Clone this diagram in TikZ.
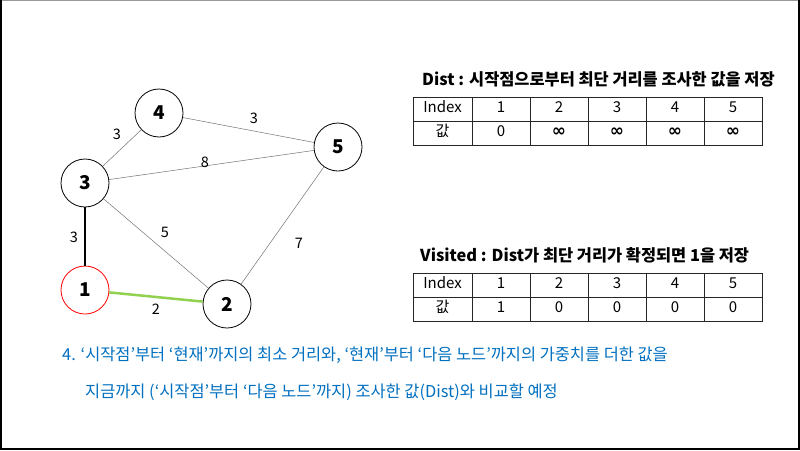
\documentclass[tikz,border=0pt]{standalone}
\usepackage{fontspec}
\setmainfont{Noto Sans CJK KR}
\newfontfamily\symfont{DejaVu Sans}
\definecolor{txtblue}{RGB}{0,112,192}
\definecolor{edgegreen}{RGB}{146,208,80}
\newcommand{\infsym}{{\symfont\fontsize{17}{17}\selectfont\bfseries ∞}}
\begin{document}
\begin{tikzpicture}[x=1pt,y=-1pt,
  vtx/.style={circle,draw=black,line width=0.8pt,minimum size=48pt,inner sep=0pt,
    font=\fontsize{19}{19}\selectfont\bfseries,fill=white},
  thinedge/.style={draw=black!55,line width=0.5pt},
  wlab/.style={font=\fontsize{14.5}{14.5}\selectfont,inner sep=0pt},
  cell/.style={draw=black!85,line width=0.8pt,inner sep=0pt,minimum height=24pt,
    font=\fontsize{15}{15}\selectfont,text height=1.45ex,text depth=0.1ex},
  ttl/.style={font=\fontsize{16.4}{16.4}\selectfont\bfseries,anchor=west,inner sep=0pt},
  note/.style={font=\fontsize{16.4}{16.4}\selectfont,text=txtblue,anchor=west,inner sep=0pt}
]
\useasboundingbox (0,0) rectangle (800,450);
\fill[white] (0,0) rectangle (800,450);
% frame
\draw[black!40,line width=1pt] (0,0.5) -- (800,0.5);
\draw[black,line width=2pt] (1,0) -- (1,450);
\draw[black,line width=1.5pt] (799.2,0) -- (799.2,450);
\draw[black,line width=2pt] (0,449) -- (800,449);

% graph nodes
\node[vtx,draw=red] (n1) at (85,290) {1};
\node[vtx] (n2) at (227,304) {2};
\node[vtx] (n3) at (85,183) {3};
\node[vtx] (n4) at (159,113) {4};
\node[vtx] (n5) at (338,147) {5};

% edges
\draw[thinedge] (n3) -- (n4);
\draw[thinedge] (n4) -- (n5);
\draw[thinedge] (n3) -- (n5);
\draw[thinedge] (n3) -- (n2);
\draw[thinedge] (n5) -- (n2);
\draw[black,line width=2pt] (n3) -- (n1);
\draw[edgegreen,line width=2.5pt] (n1) -- (n2);

% weights
\node[wlab] (w34) at (117,134) {3};
\node[wlab] (w45) at (254,118) {3};
\node[wlab] (w35) at (205,162) {8};
\node[wlab] (w32) at (165,232) {5};
\node[wlab] (w52) at (299,243) {7};
\node[wlab] (w31) at (74,237) {3};
\node[wlab] (w12) at (156,309) {2};

% Dist table
\node[ttl] (dtitle) at (422,79) {Dist : 시작점으로부터 최단 거리를 조사한 값을 저장};
\node[cell,minimum width=59pt] (dh0) at (442.5,109) {Index};
\node[cell,minimum width=59pt] (dv0) at (442.5,133) {값};
\foreach \i/\v in {1/0,2/\infsym,3/\infsym,4/\infsym,5/\infsym}{
  \node[cell,minimum width=58pt] (dh\i) at ({472+58*\i-29},109) {\i};
  \node[cell,minimum width=58pt] (dv\i) at ({472+58*\i-29},133) {\v};
}

% Visited table
\node[ttl] (vtitle) at (420,255) {Visited : Dist가 최단 거리가 확정되면 1을 저장};
\node[cell,minimum width=59pt] (vh0) at (442.5,285) {Index};
\node[cell,minimum width=59pt] (vv0) at (442.5,309) {값};
\foreach \i/\v in {1/1,2/0,3/0,4/0,5/0}{
  \node[cell,minimum width=58pt] (vh\i) at ({472+58*\i-29},285) {\i};
  \node[cell,minimum width=58pt] (vv\i) at ({472+58*\i-29},309) {\v};
}

% note
\node[note] (note1) at (62,355) {4. ‘시작점’부터 ‘현재’까지의 최소 거리와, ‘현재’부터 ‘다음 노드’까지의 가중치를 더한 값을};
\node[note] (note2) at (85,392) {지금까지 (‘시작점’부터 ‘다음 노드’까지) 조사한 값(Dist)와 비교할 예정};
\end{tikzpicture}
\end{document}
